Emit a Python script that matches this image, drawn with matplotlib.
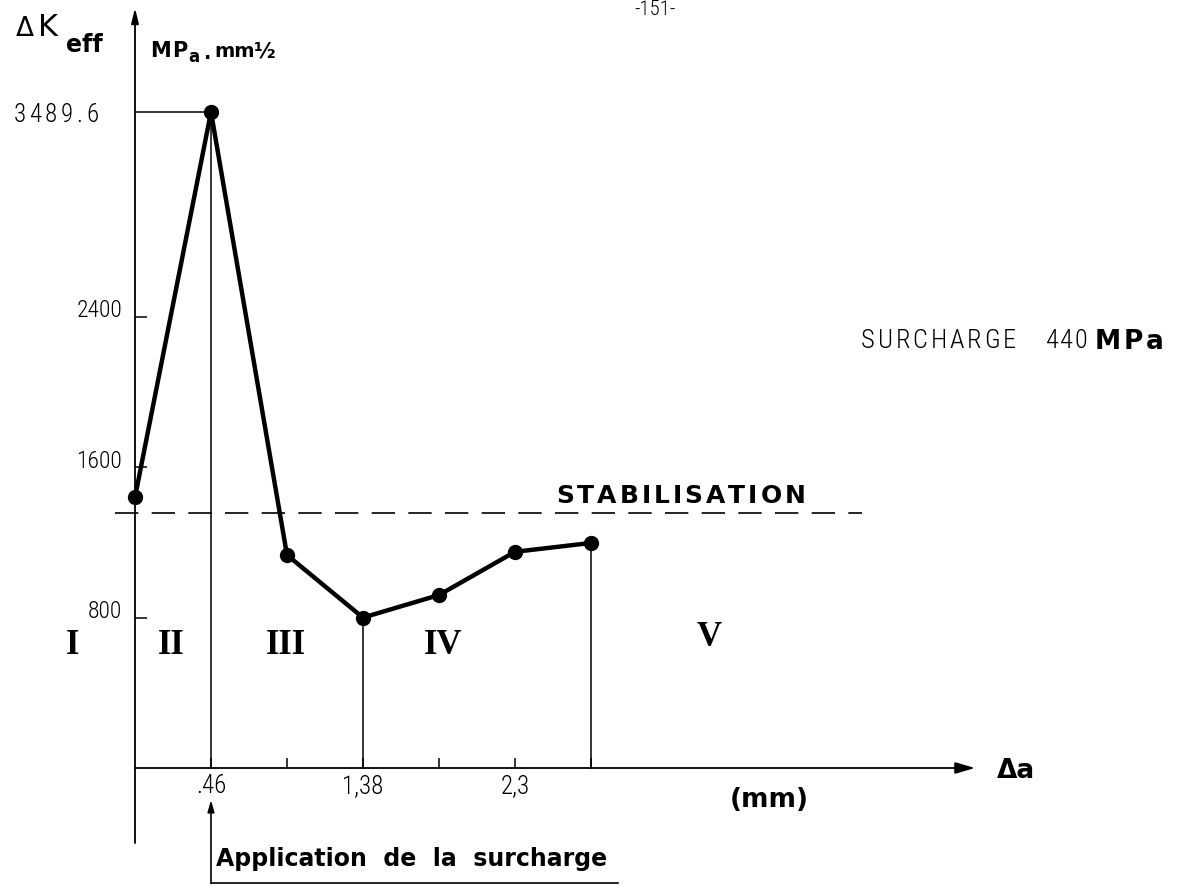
import matplotlib
matplotlib.use("Agg")
import matplotlib.pyplot as plt

# ---- data -------------------------------------------------------------
crack_growth = [0.0, 0.46, 0.92, 1.38, 1.84, 2.30, 2.76]          # Δa (mm)
delta_k_eff = [1440, 3489.6, 1133, 800, 920, 1150, 1197]           # MPa.mm^1/2
stabilisation_level = 1356

x_ticks = [0.46, 0.92, 1.38, 1.84, 2.30, 2.76]
x_labelled = [0.46, 1.38, 2.30]
x_labels = [".46", "1,38", "2,3"]
y_ticks = [800, 1600, 2400]
y_labels = ["800", "1600", "2400"]
peak_label = "3489.6"
dropped_points = [0.46, 1.38, 2.76]

stages = ["I", "II", "III", "IV", "V"]

# ---- figure / coordinate frame ---------------------------------------
W, H = 1180, 893
X0, Y0 = 135, 768          # pixel position of the origin
SX, SY = 165.2, 0.188      # pixels per mm, pixels per MPa.mm^1/2

fig = plt.figure(figsize=(W / 100, H / 100), dpi=100)
ax = fig.add_axes([0, 0, 1, 1])
ax.set_xlim(-X0 / SX, (W - X0) / SX)
ax.set_ylim(-(H - Y0) / SY, Y0 / SY)
ax.axis("off")


def dx(px):
    return (px - X0) / SX


def dy(py):
    return (Y0 - py) / SY


def ftext(px, py, s, **kw):
    return fig.text(px / W, 1 - py / H, s, **kw)


thin = dict(family=["Roboto Condensed", "Liberation Sans Narrow", "DejaVu Sans"],
            fontweight="light", color="k")
bold = dict(family="DejaVu Sans", fontweight="bold", color="k")
serif = dict(family=["Liberation Serif", "DejaVu Serif"], fontweight="bold", color="k")

renderer = fig.canvas.get_renderer()


def spaced(px, py, s, gap, right=False, **kw):
    """Draw a string character by character with extra letter spacing."""
    texts, widths = [], []
    for ch in s:
        t = fig.text(0, 0, ch, ha="left", va="baseline", **kw)
        w = t.get_window_extent(renderer=renderer).width
        if ch == " ":
            w = kw.get("fontsize", 12) * 0.35
        texts.append(t)
        widths.append(w)
    total = sum(widths) + gap * (len(s) - 1)
    x = px - total if right else px
    for t, w in zip(texts, widths):
        t.set_position((x / W, 1 - py / H))
        x += w + gap
    return x


# ---- axes with arrows -------------------------------------------------
ax.annotate("", xy=(0, dy(8)), xytext=(0, dy(843)),
            arrowprops=dict(arrowstyle="-|>,head_length=0.9,head_width=0.22",
                            lw=1.3, color="k", shrinkA=0, shrinkB=0))
ax.annotate("", xy=(dx(975), 0), xytext=(0, 0),
            arrowprops=dict(arrowstyle="-|>,head_length=1.2,head_width=0.35",
                            lw=1.3, color="k", shrinkA=0, shrinkB=0))

# ticks
for xt in x_ticks:
    ax.plot([xt, xt], [0, 10 / SY], color="k", lw=1.1, solid_capstyle="butt")
for yt in y_ticks:
    ax.plot([0, 12 / SX], [yt, yt], color="k", lw=1.1, solid_capstyle="butt")

# tick labels
for xv, lab in zip(x_labelled, x_labels):
    ax.text(xv, dy(786), lab, ha="center", va="center", fontsize=18, **thin)
for yv, lab in zip(y_ticks, y_labels):
    ax.text(dx(122), yv + 6 / SY, lab, ha="right", va="center", fontsize=17, **thin)
spaced(98, 122, peak_label, 3.5, right=True, fontsize=18, **thin)

# ---- reference lines ---------------------------------------------------
peak = max(delta_k_eff)
peak_x = crack_growth[delta_k_eff.index(peak)]
ax.plot([0, peak_x], [peak, peak], color="k", lw=1.1)
for xv in dropped_points:
    yv = delta_k_eff[crack_growth.index(xv)]
    ax.plot([xv, xv], [0, yv], color="k", lw=1.1)

ax.plot([dx(115), dx(862)], [stabilisation_level] * 2, color="k", lw=1.2,
        dashes=(14, 8))

# ---- data curve ----------------------------------------------------------
ax.plot(crack_growth, delta_k_eff, color="k", lw=3.2, marker="o",
        markersize=10, markerfacecolor="k", markeredgecolor="k", zorder=5)

# ---- text labels ---------------------------------------------------------
ftext(16, 36, "Δ", fontsize=19, family="DejaVu Sans", color="k", va="baseline")
ftext(38, 36, "K", fontsize=22, family="DejaVu Sans", color="k", va="baseline")
ftext(66, 52, "eff", fontsize=17, va="baseline", **bold)

spaced(150, 57, "MP", 1.5, fontsize=15, **bold)
ftext(188, 62, "a", fontsize=12, va="baseline", **bold)
ftext(204, 59, ".", fontsize=14, va="baseline", **bold)
ftext(214, 57, "mm", fontsize=14, va="baseline", **bold)
ftext(254, 57, "½", fontsize=15, va="baseline", **bold)

ftext(655, 15, "-151-", fontsize=15, ha="center", va="baseline", **thin)

spaced(861, 348, "SURCHARGE", 2.8, fontsize=19, **thin)
spaced(1046, 348, "440", 1.5, fontsize=19, **thin)
spaced(1095, 349, "MPa", 2.5, fontsize=19, **bold)

spaced(556, 503, "STABILISATION", 3.0, fontsize=18, **bold)

ftext(997, 778, "Δa", fontsize=19, va="baseline", **bold)
ftext(769, 800, "(mm)", fontsize=19, ha="center", va="center", **bold)

# stage numerals
stage_px = [(73, 646), (171, 646), (286, 646), (443, 646), (709, 638)]
for s, (px, py) in zip(stages, stage_px):
    ftext(px, py, s, fontsize=25, ha="center", va="center", **serif)

# overload annotation
ax.annotate("", xy=(peak_x, dy(800)), xytext=(peak_x, dy(883)),
            arrowprops=dict(arrowstyle="-|>,head_length=0.7,head_width=0.2",
                            lw=1.2, color="k", shrinkA=0, shrinkB=0))
ax.plot([peak_x, dx(618)], [dy(883), dy(883)], color="k", lw=1.2)
ftext(216, 866, "Application  de  la  surcharge", fontsize=17, va="baseline", **bold)

fig.savefig("out.png", dpi=100, facecolor="white")
